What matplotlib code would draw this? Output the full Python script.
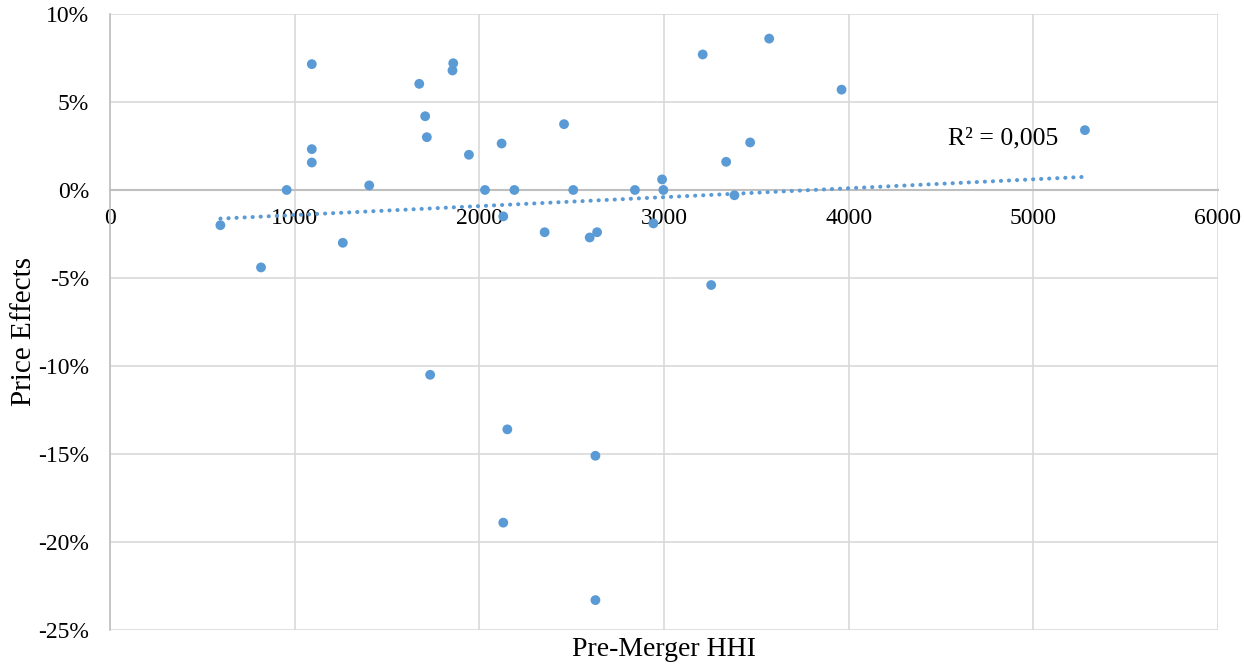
import numpy as np
import matplotlib.pyplot as plt
from matplotlib.ticker import FuncFormatter

# Datos (HHI previo a la fusión vs. efecto en precios, %)
hhi = [598, 818, 957, 1093, 1093, 1093, 1261, 1404, 1675, 1707,
       1716, 1734, 1855, 1859, 1944, 2031, 2121, 2130, 2130, 2152,
       2190, 2354, 2459, 2509, 2598, 2629, 2629, 2638, 2843, 2943,
       2990, 2997, 3210, 3256, 3337, 3382, 3467, 3570, 3962, 5280]
efecto = [-2.0, -4.4, 0.0, 7.15, 2.32, 1.56, -3.0, 0.26, 6.03, 4.19,
          3.0, -10.5, 6.79, 7.2, 2.0, 0.0, 2.64, -1.5, -18.9, -13.6,
          0.0, -2.4, 3.74, 0.0, -2.7, -15.1, -23.3, -2.4, 0.0, -1.9,
          0.6, 0.0, 7.7, -5.4, 1.6, -0.3, 2.7, 8.6, 5.7, 3.4]

x_ticks = [0, 1000, 2000, 3000, 4000, 5000, 6000]
y_ticks = [-25, -20, -15, -10, -5, 0, 5, 10]
r2_texto = "R² = 0,005"

AZUL = "#5B9BD5"
plt.rcParams['font.family'] = ['Liberation Serif', 'DejaVu Serif']

fig = plt.figure(figsize=(12.44, 6.65), dpi=100)
ax = fig.add_axes([0.0884, 0.0526, 0.8906, 0.9264])

x = np.array(hhi, dtype=float)
y = np.array(efecto, dtype=float)

# Línea de tendencia lineal (como en Excel)
m, b = np.polyfit(x, y, 1)
xt = np.array([x.min(), x.max()])
ax.plot(xt, m * xt + b, color=AZUL, lw=2.9, ls=(0, (0.05, 1.95)),
        dash_capstyle='round', zorder=3)

ax.scatter(x, y, s=50, color=AZUL, edgecolors='none', zorder=4)

ax.set_xlim(0, 6000)
ax.set_ylim(-25, 10)
ax.set_xticks(x_ticks)
ax.set_yticks(y_ticks)
ax.yaxis.set_major_formatter(FuncFormatter(lambda v, p: f"{v:.0f}%"))
ax.grid(True, color="#D9D9D9", lw=1.2)
ax.set_axisbelow(True)

for lado in ['top', 'right']:
    ax.spines[lado].set_visible(False)
ax.spines['left'].set_color("#BFBFBF")
ax.spines['left'].set_linewidth(1.2)
ax.spines['bottom'].set_position(('data', 0))
ax.spines['bottom'].set_color("#BFBFBF")
ax.spines['bottom'].set_linewidth(1.5)
ax.tick_params(length=0, labelsize=17, colors='black')
ax.tick_params(axis='x', pad=13)
ax.tick_params(axis='y', pad=15)

ax.set_ylabel("Price Effects", fontsize=21)
ax.yaxis.set_label_coords(-0.066, 0.485)
ax.text(0.5, -0.012, "Pre-Merger HHI", transform=ax.transAxes,
        ha='center', va='top', fontsize=20)
ax.text(4837, 2.93, r2_texto, fontsize=18.5, ha='center', va='center')

fig.savefig("out.png", dpi=100)
